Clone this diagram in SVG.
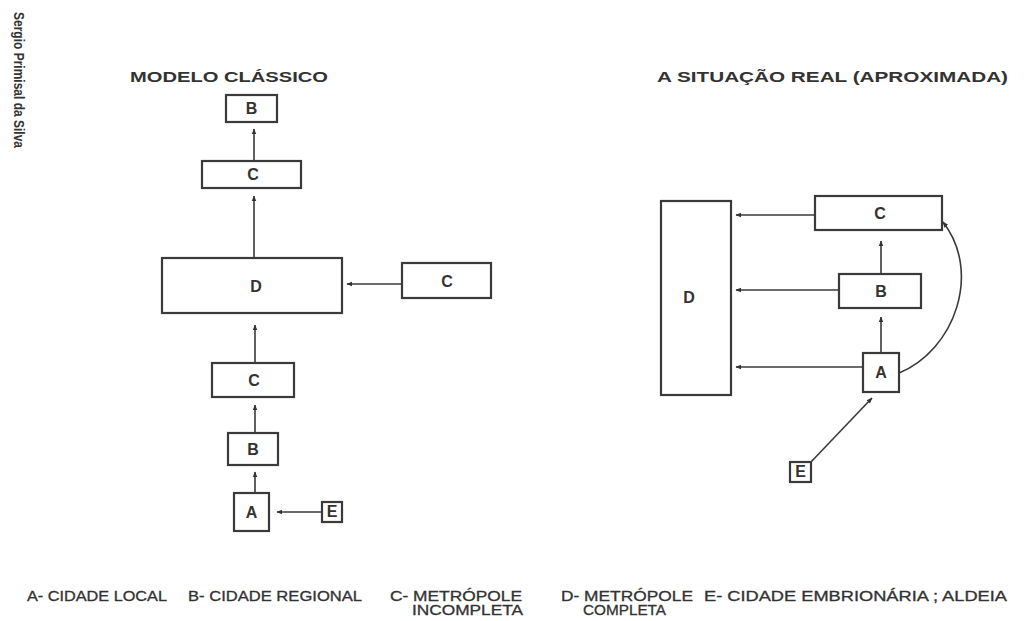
<svg xmlns="http://www.w3.org/2000/svg" width="1028" height="621" viewBox="0 0 1028 621">
<style>
.box{fill:#fff;stroke:#3a3a3a;stroke-width:2.2}
.lbl{font-family:"Liberation Sans",Arial,sans-serif;font-size:16px;font-weight:bold;fill:#333;text-anchor:middle}
.ttl{font-family:"Liberation Sans",Arial,sans-serif;font-size:15px;font-weight:bold;fill:#333}
.leg{font-family:"Liberation Sans",Arial,sans-serif;font-size:14px;fill:#333;stroke:#333;stroke-width:0.3}
.con{fill:none;stroke:#3a3a3a;stroke-width:1.6}
</style>
<defs>
<marker id="ah" viewBox="0 0 10 10" refX="9" refY="5" markerWidth="6" markerHeight="6" orient="auto" markerUnits="userSpaceOnUse">
<path d="M0,1 L10,5 L0,9 Z" fill="#333"/>
</marker>
</defs>
<rect width="1028" height="621" fill="#fff"/>
<text class="ttl" transform="translate(14,12) rotate(90)" font-size="8" fill="#555" textLength="136" lengthAdjust="spacingAndGlyphs">Sergio Primisal da Silva</text>
<text class="ttl" x="130" y="82" textLength="198" lengthAdjust="spacingAndGlyphs">MODELO  CLÁSSICO</text>
<text class="ttl" x="657" y="82" textLength="351" lengthAdjust="spacingAndGlyphs">A  SITUAÇÃO   REAL   (APROXIMADA)</text>
<g id="connectors">
<line class="con" x1="254" y1="161" x2="254" y2="129" marker-end="url(#ah)"/>
<line class="con" x1="254" y1="258" x2="254" y2="196" marker-end="url(#ah)"/>
<line class="con" x1="402" y1="284" x2="347" y2="284" marker-end="url(#ah)"/>
<line class="con" x1="255" y1="363" x2="255" y2="325" marker-end="url(#ah)"/>
<line class="con" x1="255" y1="433" x2="255" y2="405" marker-end="url(#ah)"/>
<line class="con" x1="255" y1="493" x2="255" y2="472" marker-end="url(#ah)"/>
<line class="con" x1="322" y1="512" x2="277" y2="512" marker-end="url(#ah)"/>
<line class="con" x1="815" y1="215" x2="736" y2="215" marker-end="url(#ah)"/>
<line class="con" x1="839" y1="290" x2="736" y2="290" marker-end="url(#ah)"/>
<line class="con" x1="863" y1="367" x2="736" y2="367" marker-end="url(#ah)"/>
<line class="con" x1="881" y1="274" x2="881" y2="241" marker-end="url(#ah)"/>
<line class="con" x1="881" y1="353" x2="881" y2="317" marker-end="url(#ah)"/>
<path class="con" d="M899,373 C955,350 982,272 943,222" marker-end="url(#ah)"/>
<line class="con" x1="810" y1="463" x2="872" y2="398" marker-end="url(#ah)"/>
</g>
<g id="cl-b"><rect class="box" x="226" y="95" width="51" height="27"/><text class="lbl" x="251.5" y="114">B</text></g>
<g id="cl-c1"><rect class="box" x="202" y="161" width="99" height="27"/><text class="lbl" x="253" y="180">C</text></g>
<g id="cl-d"><rect class="box" x="162" y="258" width="180" height="55"/><text class="lbl" x="256" y="292">D</text></g>
<g id="cl-c2"><rect class="box" x="402" y="263" width="89" height="35"/><text class="lbl" x="447" y="287">C</text></g>
<g id="cl-c3"><rect class="box" x="212" y="363" width="82" height="34"/><text class="lbl" x="254" y="386">C</text></g>
<g id="cl-b2"><rect class="box" x="228" y="433" width="50" height="32"/><text class="lbl" x="253" y="455">B</text></g>
<g id="cl-a"><rect class="box" x="234" y="493" width="35" height="38"/><text class="lbl" x="251.5" y="518">A</text></g>
<g id="cl-e"><rect class="box" x="322" y="502" width="20" height="20"/><text class="lbl" x="332" y="517" font-size="14" font-weight="normal">E</text></g>
<g id="re-d"><rect class="box" x="661" y="201" width="70" height="194"/><text class="lbl" x="689" y="303">D</text></g>
<g id="re-c"><rect class="box" x="815" y="196" width="127" height="34"/><text class="lbl" x="880" y="219">C</text></g>
<g id="re-b"><rect class="box" x="839" y="274" width="82" height="34"/><text class="lbl" x="881" y="297">B</text></g>
<g id="re-a"><rect class="box" x="863" y="353" width="36" height="39"/><text class="lbl" x="881" y="378">A</text></g>
<g id="re-e"><rect class="box" x="790" y="462" width="21" height="20"/><text class="lbl" x="800.5" y="477" font-size="14" font-weight="normal">E</text></g>
<g id="legend">
<text class="leg" x="27" y="601" textLength="140" lengthAdjust="spacingAndGlyphs">A- CIDADE LOCAL</text>
<text class="leg" x="188" y="601" textLength="174" lengthAdjust="spacingAndGlyphs">B- CIDADE REGIONAL</text>
<text class="leg" x="390" y="601" textLength="132" lengthAdjust="spacingAndGlyphs">C- METRÓPOLE</text>
<text class="leg" x="412" y="615" textLength="111" lengthAdjust="spacingAndGlyphs">INCOMPLETA</text>
<text class="leg" x="561" y="601" textLength="132" lengthAdjust="spacingAndGlyphs">D- METRÓPOLE</text>
<text class="leg" x="583" y="615" textLength="83" lengthAdjust="spacingAndGlyphs">COMPLETA</text>
<text class="leg" x="704" y="601" textLength="303" lengthAdjust="spacingAndGlyphs">E- CIDADE EMBRIONÁRIA ; ALDEIA</text>
</g>
</svg>
